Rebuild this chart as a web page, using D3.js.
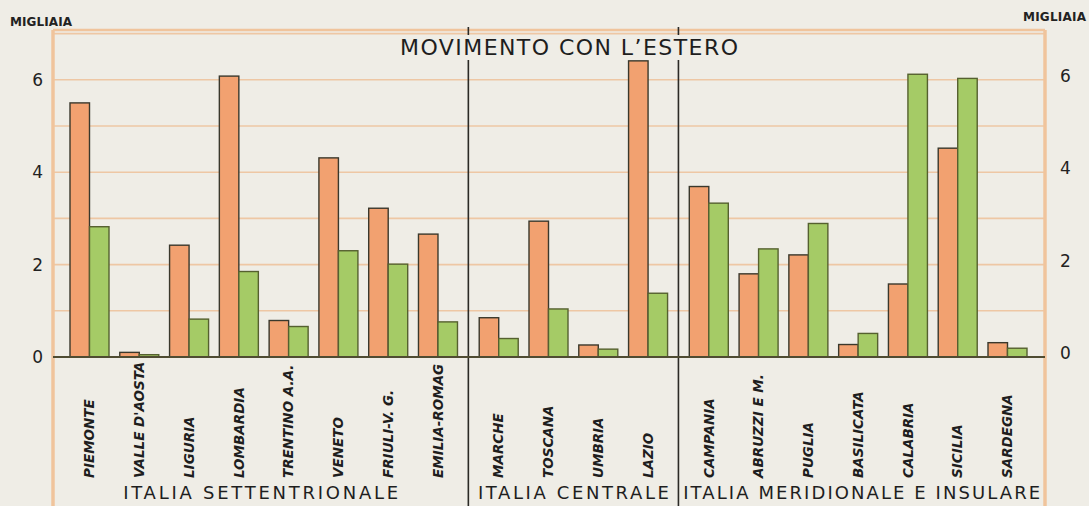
<!DOCTYPE html>
<html>
<head>
<meta charset="utf-8">
<script src="https://cdn.jsdelivr.net/npm/d3@7"></script>
<style>
  body { margin: 0; background: #efede6; }
  svg { display: block; }
</style>
</head>
<body>
<div id="chart"></div>
<script>
const regions = ['PIEMONTE', "VALLE D'AOSTA", 'LIGURIA', 'LOMBARDIA', 'TRENTINO A.A.', 'VENETO', 'FRIULI-V. G.', 'EMILIA-ROMAG',
  'MARCHE', 'TOSCANA', 'UMBRIA', 'LAZIO',
  'CAMPANIA', 'ABRUZZI E M.', 'PUGLIA', 'BASILICATA', 'CALABRIA', 'SICILIA', 'SARDEGNA'];
const groupNames = ['ITALIA  SETTENTRIONALE', 'ITALIA  CENTRALE', 'ITALIA  MERIDIONALE  E  INSULARE'];
const groupOf = [0, 0, 0, 0, 0, 0, 0, 0, 1, 1, 1, 1, 2, 2, 2, 2, 2, 2, 2];
// migliaia
const orangeValues = [5.50, 0.10, 2.42, 6.08, 0.79, 4.31, 3.22, 2.66, 0.85, 2.94, 0.26, 6.41, 3.69, 1.80, 2.21, 0.27, 1.58, 4.52, 0.31];
const greenValues = [2.82, 0.05, 0.82, 1.85, 0.66, 2.30, 2.01, 0.76, 0.40, 1.04, 0.17, 1.38, 3.33, 2.34, 2.89, 0.51, 6.12, 6.03, 0.19];
const yTicks = [0, 2, 4, 6];
const gridValues = [1, 2, 3, 4, 5, 6, 7];

const width = 1089;
const height = 506;
const frame = { left: 53, right: 1045, top: 30 };
const groupGap = 0.22;

const svg = d3.select('#chart')
  .append('svg')
  .attr('width', width)
  .attr('height', height)
  .attr('viewBox', [0, 0, width, height]);

svg.append('rect').attr('width', width).attr('height', height).attr('fill', '#efede6');

const y = d3.scaleLinear()
  .domain([0, 7])
  .range([357, 33.6]);

const slot = i => i + groupOf[i] * groupGap;
const x = d3.scaleLinear()
  .domain([0, slot(regions.length - 1)])
  .range([70, 988]);

const inner = d3.scaleBand()
  .domain(['o', 'g'])
  .range([0, 39]);

// gridlines
svg.append('g')
  .selectAll('line')
  .data(gridValues)
  .join('line')
  .attr('x1', frame.left)
  .attr('x2', frame.right)
  .attr('y1', d => y(d))
  .attr('y2', d => y(d))
  .attr('stroke', '#eec7a4')
  .attr('stroke-width', 1.6);

// frame
svg.append('line').attr('x1', frame.left).attr('x2', frame.right).attr('y1', frame.top).attr('y2', frame.top)
  .attr('stroke', '#f0c49c').attr('stroke-width', 2.5);
svg.append('g')
  .selectAll('line')
  .data([frame.left, frame.right])
  .join('line')
  .attr('x1', d => d).attr('x2', d => d)
  .attr('y1', frame.top).attr('y2', height)
  .attr('stroke', '#f0c49c')
  .attr('stroke-width', 3.5);

// dividers between groups
const dividers = [7, 11].map(i => (x(slot(i)) + inner.range()[1] + x(slot(i + 1))) / 2);
const divG = svg.append('g').attr('stroke', '#2b2a26').attr('stroke-width', 1.6);
dividers.forEach(d => {
  divG.append('line').attr('x1', d).attr('x2', d).attr('y1', 27).attr('y2', 35);
  divG.append('line').attr('x1', d).attr('x2', d).attr('y1', 60).attr('y2', height);
});

// bars
const rows = regions.map((r, i) => ({ r, i, o: orangeValues[i], g: greenValues[i] }));
const barG = svg.append('g').attr('stroke', '#3a382c').attr('stroke-width', 1.4);
barG.selectAll('rect.o')
  .data(rows)
  .join('rect')
  .attr('class', 'o')
  .attr('x', d => x(slot(d.i)) + inner('o'))
  .attr('y', d => y(d.o))
  .attr('width', inner.bandwidth())
  .attr('height', d => y(0) - y(d.o))
  .attr('fill', '#f2a170');
barG.selectAll('rect.g')
  .data(rows)
  .join('rect')
  .attr('class', 'g')
  .attr('x', d => x(slot(d.i)) + inner('g'))
  .attr('y', d => y(d.g))
  .attr('width', inner.bandwidth())
  .attr('height', d => y(0) - y(d.g))
  .attr('fill', '#a5cb66')
  .attr('stroke', '#55602f');

// zero line
svg.append('line')
  .attr('x1', frame.left).attr('x2', frame.right)
  .attr('y1', y(0)).attr('y2', y(0))
  .attr('stroke', '#4f4c32')
  .attr('stroke-width', 2);

// axes
const axisFont = "'DejaVu Sans', sans-serif";
const left = svg.append('g')
  .attr('transform', 'translate(43,0)')
  .call(d3.axisLeft(y).tickValues(yTicks).tickFormat(d3.format('d')).tickSize(0).tickPadding(0));
left.select('.domain').remove();
left.selectAll('text').attr('font-size', 17).attr('font-family', axisFont).attr('fill', '#222');

const right = svg.append('g')
  .attr('transform', 'translate(1060,-4)')
  .call(d3.axisRight(y).tickValues(yTicks).tickFormat(d3.format('d')).tickSize(0).tickPadding(0));
right.select('.domain').remove();
right.selectAll('text').attr('font-size', 17).attr('font-family', axisFont).attr('fill', '#222');

svg.append('text').attr('x', 10).attr('y', 26).text('MIGLIAIA')
  .attr('font-size', 12).attr('font-weight', 'bold').attr('font-family', axisFont).attr('fill', '#222')
  .attr('textLength', 62);
svg.append('text').attr('x', 1023).attr('y', 21).text('MIGLIAIA')
  .attr('font-size', 12).attr('font-weight', 'bold').attr('font-family', axisFont).attr('fill', '#222')
  .attr('textLength', 63);

// title
svg.append('text')
  .attr('x', 400).attr('y', 55)
  .attr('font-size', 22)
  .attr('font-family', axisFont)
  .attr('fill', '#1e1e1e')
  .attr('textLength', 338)
  .attr('lengthAdjust', 'spacing')
  .text("MOVIMENTO CON L\u2019ESTERO");

// category labels
svg.append('g')
  .selectAll('text')
  .data(rows)
  .join('text')
  .attr('transform', d => `translate(${x(slot(d.i)) + inner.range()[1] / 2},478) rotate(-90)`)
  .attr('dy', '0.35em')
  .attr('font-size', 13.5)
  .attr('font-weight', 'bold')
  .attr('font-style', 'italic')
  .attr('font-family', axisFont)
  .attr('fill', '#1e1e1e')
  .text(d => d.r);

// group labels
const spans = [[frame.left, dividers[0]], [dividers[0], dividers[1]], [dividers[1], frame.right]];
const groupWidths = [275, 191, 357];
svg.append('g')
  .selectAll('text')
  .data(groupNames)
  .join('text')
  .attr('x', (d, i) => (spans[i][0] + spans[i][1]) / 2 - groupWidths[i] / 2)
  .attr('y', 499)
  .attr('font-size', 18)
  .attr('font-family', axisFont)
  .attr('fill', '#1e1e1e')
  .attr('textLength', (d, i) => groupWidths[i])
  .attr('lengthAdjust', 'spacing')
  .text(d => d);
</script>
</body>
</html>
